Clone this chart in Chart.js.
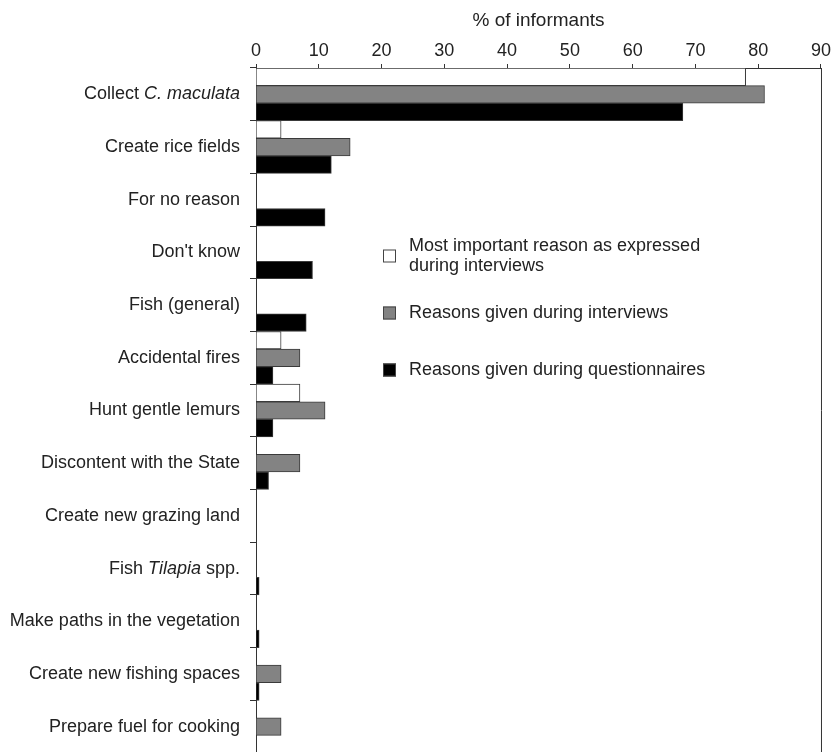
<!DOCTYPE html>
<html>
<head>
<meta charset="utf-8">
<script src="https://cdn.jsdelivr.net/npm/chart.js@4/dist/chart.umd.min.js"></script>
<style>
  html, body { margin: 0; padding: 0; background: #fff; overflow: hidden; }
</style>
</head>
<body>
<canvas id="chart" width="833" height="760"></canvas>
<script>
// parts between * are drawn in italics
const categories = [
  'Collect *C. maculata*',
  'Create rice fields',
  'For no reason',
  "Don't know",
  'Fish (general)',
  'Accidental fires',
  'Hunt gentle lemurs',
  'Discontent with the State',
  'Create new grazing land',
  'Fish *Tilapia* spp.',
  'Make paths in the vegetation',
  'Create new fishing spaces',
  'Prepare fuel for cooking'
];
const mostImportant  = [78, 4, 0, 0, 0, 4, 7, 0, 0, 0, 0, 0, 0];
const interviews     = [81, 15, 0, 0, 0, 7, 11, 7, 0, 0, 0, 4, 4];
const questionnaires = [68, 12, 11, 9, 8, 2.7, 2.7, 2, 0, 0.5, 0.5, 0.5, 0];
const xTicks = [0, 10, 20, 30, 40, 50, 60, 70, 80, 90];
const seriesNames = [
  ['Most important reason as expressed', 'during interviews'],
  ['Reasons given during interviews'],
  ['Reasons given during questionnaires']
];
const seriesColors = ['#ffffff', '#838383', '#000000'];

const FONT = '"Liberation Sans", Arial, sans-serif';
const TEXT = '#222';
const LINE = '#333';

Chart.defaults.font.family = FONT;
Chart.defaults.color = TEXT;

// y labels drawn by hand so the species names can be italic
const yLabels = {
  id: 'yLabels',
  afterDraw(chart) {
    const ctx = chart.ctx;
    const y = chart.scales.y;
    ctx.save();
    ctx.fillStyle = TEXT;
    ctx.textBaseline = 'middle';
    ctx.textAlign = 'left';
    categories.forEach((cat, i) => {
      const parts = cat.split('*');
      let w = 0;
      parts.forEach((p, k) => {
        ctx.font = (k % 2 ? 'italic ' : '') + '18px ' + FONT;
        w += ctx.measureText(p).width;
      });
      let x = 240 - w;
      const cy = y.getPixelForValue(i);
      parts.forEach((p, k) => {
        ctx.font = (k % 2 ? 'italic ' : '') + '18px ' + FONT;
        ctx.fillText(p, x, cy);
        x += ctx.measureText(p).width;
      });
    });
    ctx.restore();
  }
};

const frame = {
  id: 'frame',
  afterDraw(chart) {
    const { ctx, chartArea } = chart;
    ctx.save();
    ctx.strokeStyle = LINE;
    ctx.lineWidth = 1;
    ctx.beginPath();
    ctx.moveTo(chartArea.right + 0.5, chartArea.top);
    ctx.lineTo(chartArea.right + 0.5, chartArea.bottom);
    ctx.stroke();
    ctx.restore();
  }
};

const legendBox = {
  id: 'legendBox',
  afterDraw(chart) {
    const ctx = chart.ctx;
    const rows = [256, 313, 370];
    ctx.save();
    ctx.font = '18px ' + FONT;
    ctx.textBaseline = 'middle';
    rows.forEach((cy, i) => {
      ctx.fillStyle = seriesColors[i];
      ctx.fillRect(383, cy - 6.5, 13, 13);
      ctx.strokeStyle = '#444';
      ctx.lineWidth = 1;
      ctx.strokeRect(383.5, cy - 6, 12, 12);
      ctx.fillStyle = TEXT;
      const lines = seriesNames[i];
      lines.forEach((t, k) => {
        const ly = cy + (k - (lines.length - 1) / 2) * 19.5;
        ctx.fillText(t, 409, ly);
      });
    });
    ctx.restore();
  }
};

const datasets = [mostImportant, interviews, questionnaires].map((d, i) => ({
  label: seriesNames[i].join(' '),
  data: d,
  backgroundColor: seriesColors[i],
  borderColor: '#3a3a3a',
  borderWidth: 1,
  categoryPercentage: 1,
  barPercentage: 1
}));

new Chart(document.getElementById('chart'), {
  type: 'bar',
  data: { labels: categories.map(c => c.replace(/\*/g, '')), datasets },
  options: {
    indexAxis: 'y',
    responsive: false,
    animation: false,
    layout: { padding: { left: 0, right: 12, top: 0, bottom: 7 } },
    plugins: { legend: { display: false }, tooltip: { enabled: false } },
    scales: {
      x: {
        type: 'linear',
        position: 'top',
        min: 0,
        max: 90,
        afterBuildTicks: s => { s.ticks = xTicks.map(v => ({ value: v })); },
        ticks: { font: { size: 18 }, color: TEXT, padding: 2 },
        grid: { drawOnChartArea: false, tickLength: 4, color: LINE },
        border: { color: LINE, width: 1 },
        title: {
          display: true,
          text: '% of informants',
          font: { size: 19 },
          color: TEXT,
          padding: { top: 9, bottom: 0 }
        },
        afterFit: s => { s.height = 68; }
      },
      y: {
        type: 'category',
        offset: true,
        ticks: { display: false },
        grid: { offset: true, drawOnChartArea: false, tickLength: 6, color: LINE },
        border: { color: LINE, width: 1 },
        afterFit: s => { s.width = 256; }
      }
    }
  },
  plugins: [yLabels, frame, legendBox]
});
</script>
</body>
</html>
